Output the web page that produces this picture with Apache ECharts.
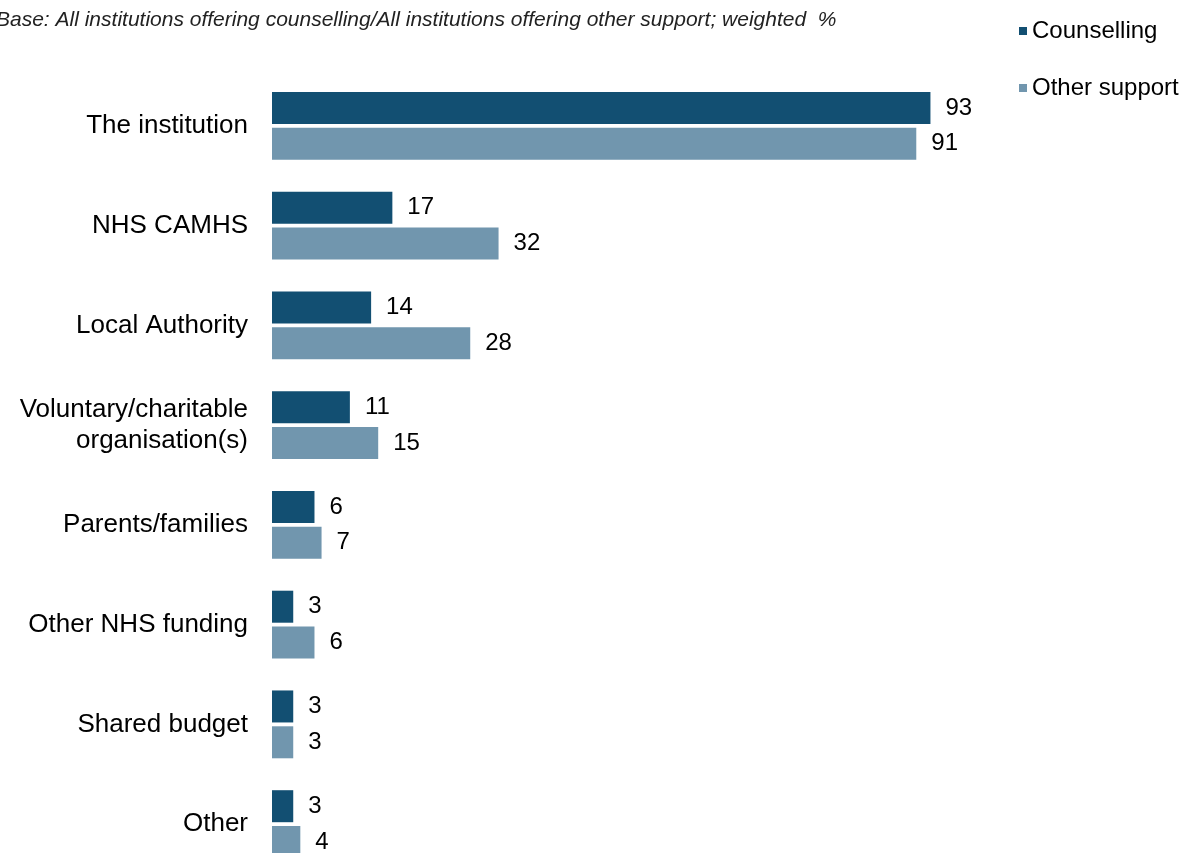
<!DOCTYPE html>
<html><head><meta charset="utf-8">
<script src="https://cdn.jsdelivr.net/npm/echarts@6/dist/echarts.min.js"></script>
<style>html,body{margin:0;padding:0;background:#fff}#c{width:1183px;height:853px}</style>
</head><body><div id="c"></div>
<script>
const categories = ["The institution","NHS CAMHS","Local Authority","Voluntary/charitable\norganisation(s)","Parents/families","Other NHS funding","Shared budget","Other"];
const counselling = [93,17,14,11,6,3,3,3];
const otherSupport = [91,32,28,15,7,6,3,4];
const seriesNames = ["Counselling","Other support"];
const titleText = "Base: All institutions offering counselling/All institutions offering other support; weighted  %";

const chart = echarts.init(document.getElementById('c'));
const font = "Liberation Sans, Arial, sans-serif";
const lbl = {show:true, position:'right', distance:15, color:'#000', fontSize:24, fontFamily:font};
chart.setOption({
  animation:false,
  title:{text:titleText, left:-9, top:5, textStyle:{fontStyle:'italic', fontWeight:'normal', fontSize:21, color:'#222', fontFamily:font}},
  legend:{orient:'vertical', left:1014, top:14, itemWidth:8, itemHeight:8, itemGap:33, icon:'rect',
    textStyle:{fontSize:24, color:'#000', fontFamily:font}, data:seriesNames},
  grid:{left:272, width:708, top:76, height:798, containLabel:false, outerBoundsMode:'none'},
  xAxis:{type:'value', min:0, max:100, show:false},
  yAxis:{type:'category', inverse:true, data:categories, axisLine:{show:false}, axisTick:{show:false},
    axisLabel:{fontSize:26, color:'#000', margin:24, fontFamily:font, lineHeight:31, align:'right'}},
  series:[
    {name:seriesNames[0], type:'bar', data:counselling, barWidth:32, barGap:'12%', itemStyle:{color:'#124f72'}, label:lbl},
    {name:seriesNames[1], type:'bar', data:otherSupport, barWidth:32, itemStyle:{color:'#7196ae'}, label:lbl}
  ]
});
</script></body></html>
